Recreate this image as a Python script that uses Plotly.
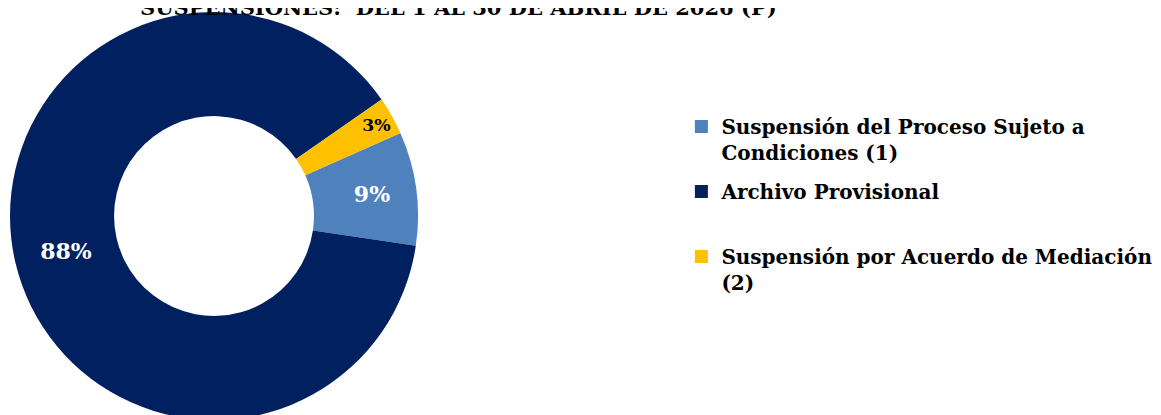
import plotly.graph_objects as go

labels = [
    "Suspensión del Proceso Sujeto a Condiciones (1)",
    "Archivo Provisional",
    "Suspensión por Acuerdo de Mediación (2)",
]
legend_labels = [
    "Suspensión del Proceso Sujeto a<br>Condiciones (1)",
    "Archivo Provisional<br> ",
    "Suspensión por Acuerdo de Mediación<br>(2)",
]
values = [9, 88, 3]
colors = ["#4F81BD", "#002060", "#FFC000"]
text_colors = ["white", "white", "black"]
title_text = "SUSPENSIONES:  DEL 1 AL 30 DE ABRIL DE 2026 (P)"

W, H = 1161, 415
SERIF = "DejaVu Serif"

fig = go.Figure()
fig.add_trace(
    go.Pie(
        labels=labels,
        values=values,
        sort=False,
        direction="clockwise",
        rotation=66,
        hole=0.49,
        marker=dict(colors=colors, line=dict(width=0)),
        texttemplate="%{percent:.0%}",
        textposition="inside",
        insidetextorientation="horizontal",
        textfont=dict(family=SERIF, size=22, color=text_colors, weight="bold"),
        domain=dict(x=[0, 412 / W], y=[0, 1]),
        showlegend=False,
    )
)
# legend entries (one per slice, same colours)
for lab, col in zip(legend_labels, colors):
    fig.add_trace(
        go.Scatter(
            x=[None], y=[None], mode="markers", name=lab, legendgroup=lab,
            marker=dict(symbol="square", size=13, color=col),
            hoverinfo="skip",
        )
    )

fig.update_layout(
    width=W,
    height=H,
    margin=dict(l=0, r=0, t=4, b=3),
    paper_bgcolor="white",
    plot_bgcolor="white",
    xaxis=dict(visible=False),
    yaxis=dict(visible=False),
    annotations=[
        dict(
            text=title_text, xref="paper", yref="paper",
            x=450 / W, xanchor="center", y=1.011, yanchor="middle",
            showarrow=False,
            font=dict(family=SERIF, size=21, color="black", weight="bold"),
        )
    ],
    legend=dict(
        x=0.58,
        xanchor="left",
        y=0.767,
        yanchor="top",
        valign="top",
        font=dict(family=SERIF, size=20, color="black", weight="bold"),
        tracegroupgap=10,
        itemclick=False,
    ),
)
fig.write_html("out.html")
